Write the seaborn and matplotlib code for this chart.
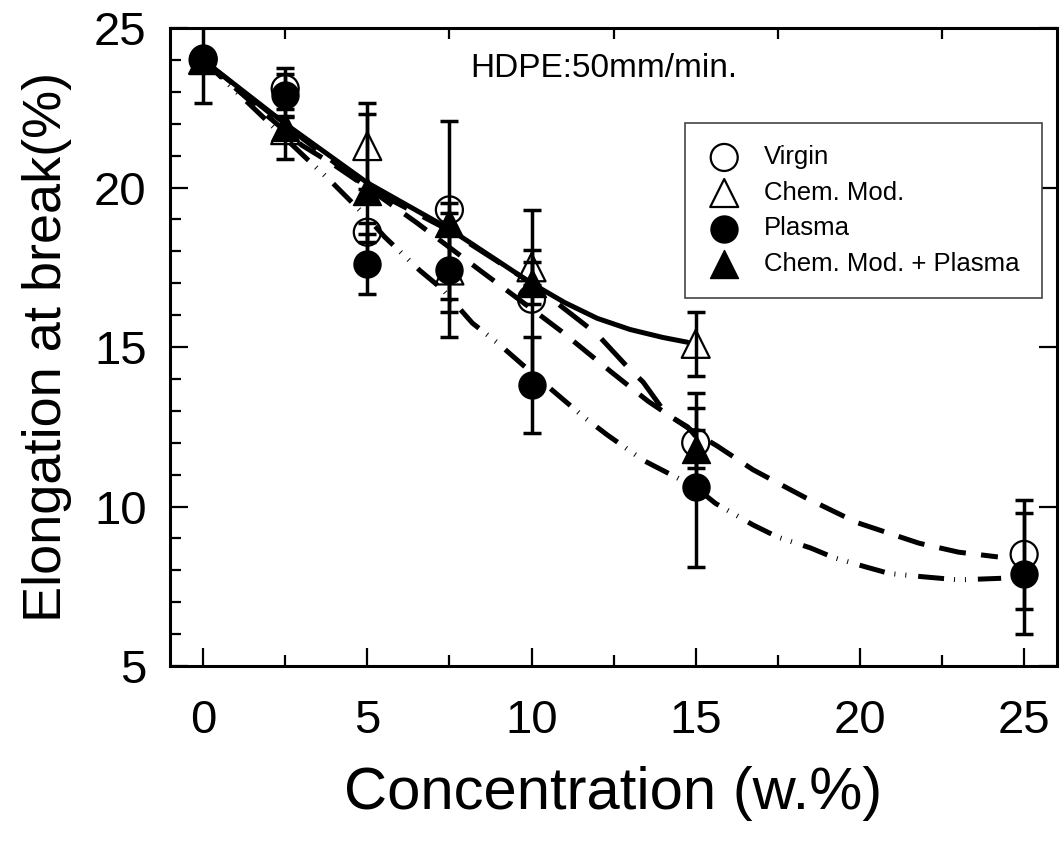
import matplotlib
matplotlib.use("Agg")
import matplotlib.pyplot as plt
import seaborn as sns
from matplotlib.ticker import MultipleLocator

# measured points
conc = [0, 2.5, 5, 7.5, 10, 15, 25]
conc_chem = [0, 2.5, 5, 7.5, 10, 15]

virgin = [24.0, 23.1, 18.6, 19.3, 16.5, 12.0, 8.5]
virgin_err = [1.35, 0.65, 0.3, 2.8, 2.8, 1.55, 1.7]

chem = [24.0, 21.8, 21.3, 17.4, 17.5, 15.1]
chem_err = [0.0, 0.9, 1.35, 2.1, 0.55, 1.0]

plasma = [24.05, 22.9, 17.6, 17.4, 13.8, 10.6, 7.9]
plasma_err = [0.0, 0.65, 0.95, 1.3, 1.5, 2.5, 1.9]

chem_plasma = [24.0, 21.9, 19.9, 18.9, 17.0, 11.8]
chem_plasma_err = [0.0, 0.3, 2.4, 0.3, 0.65, 0.6]

# fitted curves
fit_virgin_x = [0, 1.5, 3, 4, 5, 6.5, 8.5, 10, 10.9, 12.45, 13.55, 15, 15.65, 16.75, 18.3, 19.9, 21.8, 23, 24.2]
fit_virgin_y = [24.0, 22.65, 21.33, 20.7, 20.0, 18.9, 17.35, 16.2, 15.5, 14.2, 13.3, 12.3, 11.9, 11.15, 10.3, 9.5, 8.85, 8.57, 8.42]

fit_chem_x = [0, 2.5, 5, 7.5, 10, 11, 12, 13, 14, 14.75]
fit_chem_y = [24.0, 22.0, 20.15, 18.7, 17.0, 16.4, 15.9, 15.55, 15.3, 15.15]

fit_plasma_x = [0, 3.2, 3.85, 5.07, 5.53, 6.6, 7.3, 8.2, 9.0, 10, 11.6, 12.3, 13.4, 15, 15.6, 16.75, 17.5, 18.5, 19.2, 20.2, 20.9, 21.9, 23, 24.3]
fit_plasma_y = [24.0, 20.86, 20.24, 18.98, 18.45, 17.4, 16.8, 15.75, 15.1, 14.2, 12.8, 12.25, 11.45, 10.6, 10.1, 9.42, 9.04, 8.7, 8.4, 8.1, 7.9, 7.8, 7.7, 7.75]

fit_cp_x = [0, 2.5, 5, 7.5, 10, 11, 12, 12.9, 13.4, 14.1, 14.75, 15]
fit_cp_y = [24.0, 21.95, 20.0, 18.65, 17.0, 16.2, 15.4, 14.4, 13.9, 12.9, 12.5, 12.2]

sns.set_style("ticks")
plt.rcParams['font.family'] = ['Liberation Sans', 'DejaVu Sans']
plt.rcParams['lines.scale_dashes'] = False
for k in ['text.color', 'axes.labelcolor', 'xtick.color', 'ytick.color', 'axes.edgecolor']:
    plt.rcParams[k] = 'black'

fig = plt.figure(figsize=(10.64, 8.42), dpi=100)
ax = fig.add_axes([0.16, 0.209, 0.8334, 0.7577])

lw = 3.6
sns.lineplot(x=fit_chem_x, y=fit_chem_y, ax=ax, color='black', lw=lw, zorder=2)
sns.lineplot(x=fit_virgin_x, y=fit_virgin_y, ax=ax, color='black', lw=lw,
             linestyle=(0, (19.5, 11)), zorder=2)
sns.lineplot(x=fit_cp_x, y=fit_cp_y, ax=ax, color='black', lw=lw,
             linestyle=(0, (26, 13)), zorder=2)
sns.lineplot(x=fit_plasma_x, y=fit_plasma_y, ax=ax, color='black', lw=lw,
             linestyle=(0, (18.7, 7.2, 0.7, 7.2, 0.7, 8.6)), zorder=2)

eb = dict(fmt='none', ecolor='black', elinewidth=2.5, capsize=6.8, capthick=2.5, zorder=3)
ax.errorbar(conc, virgin, yerr=virgin_err, **eb)
ax.errorbar(conc_chem, chem, yerr=chem_err, **eb)
ax.errorbar(conc, plasma, yerr=plasma_err, **eb)
ax.errorbar(conc_chem, chem_plasma, yerr=chem_plasma_err, **eb)

s_c = 378
s_t = 406
sns.scatterplot(x=conc, y=virgin, ax=ax, marker='o', s=s_c, facecolor='none',
                edgecolor='black', linewidth=1.6, label='Virgin', zorder=4)
sns.scatterplot(x=conc_chem, y=chem, ax=ax, marker='^', s=s_t, facecolor='none',
                edgecolor='black', linewidth=1.6, label='Chem. Mod.', zorder=4)
sns.scatterplot(x=conc, y=plasma, ax=ax, marker='o', s=s_c, color='black',
                edgecolor='black', linewidth=1.0, label='Plasma', zorder=5)
sns.scatterplot(x=conc_chem, y=chem_plasma, ax=ax, marker='^', s=s_t, color='black',
                edgecolor='black', linewidth=1.0, label='Chem. Mod. + Plasma', zorder=5)

ax.set_xlim(-1, 26)
ax.set_ylim(5, 25)
ax.xaxis.set_major_locator(MultipleLocator(5))
ax.xaxis.set_minor_locator(MultipleLocator(2.5))
ax.yaxis.set_major_locator(MultipleLocator(5))
ax.yaxis.set_minor_locator(MultipleLocator(1))

for sp in ax.spines.values():
    sp.set_visible(True)
    sp.set_linewidth(2.2)
    sp.set_color('black')

ax.tick_params(which='both', direction='in', colors='black', width=1.6)
ax.tick_params(which='major', length=13, labelsize=34)
ax.tick_params(which='minor', length=8)
ax.tick_params(axis='x', which='major', top=False, pad=24)
ax.tick_params(axis='x', which='minor', top=True, bottom=True)
ax.tick_params(axis='y', which='major', right=True, left=True, pad=17)
ax.tick_params(axis='y', which='minor', right=False, left=True)

ax.set_xlabel('Concentration (w.%)', fontsize=43, labelpad=16)
ax.set_ylabel('Elongation at break(%)', fontsize=39, labelpad=16)

ax.text(0.338, 0.936, 'HDPE:50mm/min.', transform=ax.transAxes, fontsize=24,
        ha='left', va='center')

leg = ax.legend(loc='upper right', bbox_to_anchor=(0.983, 0.851), fontsize=18.5,
                frameon=True, fancybox=False, edgecolor='#444444', framealpha=1,
                borderaxespad=0, borderpad=0.86, handlelength=1.32,
                handletextpad=0.9, labelspacing=0.45)
leg.get_frame().set_linewidth(1.2)

fig.savefig('out.png', dpi=100)
